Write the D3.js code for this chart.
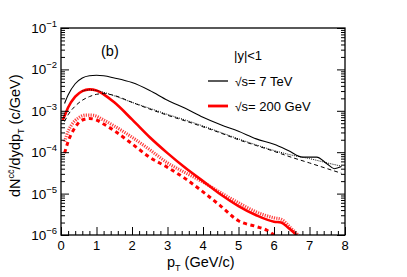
<!DOCTYPE html>
<html>
<head>
<meta charset="utf-8">
<script src="https://cdn.jsdelivr.net/npm/d3@7/dist/d3.min.js"></script>
<style>
  body { margin: 0; background: #fff; }
  svg text { font-family: "Liberation Sans", Arial, sans-serif; fill: #000; }
</style>
</head>
<body>
<svg id="chart"></svg>
<script>
// 7 TeV curves
let ptSolid7 = [0.1, 0.2, 0.4, 0.6, 0.8, 1.0, 1.2, 1.5, 2.0, 2.5, 3.0, 3.5, 4.0, 4.5, 5.0, 5.5, 6.0, 6.4, 6.8, 7.2, 7.5, 7.7, 7.9];
let valSolid7 = [1.5e-3, 2.4e-3, 4.5e-3, 6.2e-3, 7.0e-3, 7.2e-3, 7.0e-3, 6.2e-3, 4.8e-3, 3.1e-3, 1.8e-3, 1.15e-3, 7.0e-4, 4.6e-4, 3.2e-4, 2.1e-4, 1.55e-4, 1.1e-4, 7.6e-5, 7.6e-5, 5.2e-5, 4.0e-5, 4.5e-5];

let ptDot7 = [0.6, 0.8, 1.0, 1.2, 1.5, 2.0, 2.5, 3.0, 3.5, 4.0, 4.5, 5.0, 5.5, 6.0, 6.5, 7.0, 7.5, 7.9];
let valDot7 = [3.0e-3, 3.2e-3, 3.1e-3, 2.8e-3, 2.3e-3, 1.6e-3, 1.15e-3, 8.2e-4, 6.0e-4, 4.3e-4, 3.0e-4, 2.1e-4, 1.5e-4, 1.1e-4, 8.5e-5, 7.0e-5, 5.5e-5, 4.6e-5];

let ptDash7 = [0.1, 0.2, 0.4, 0.6, 0.8, 1.0, 1.2, 1.5, 2.0, 2.5, 3.0, 3.5, 4.0, 4.5, 5.0, 5.5, 6.0, 6.5, 7.0, 7.5, 7.9];
let valDash7 = [5.5e-4, 8.0e-4, 1.3e-3, 1.8e-3, 2.2e-3, 2.5e-3, 2.6e-3, 2.35e-3, 1.6e-3, 1.1e-3, 7.8e-4, 5.7e-4, 4.1e-4, 2.9e-4, 2.0e-4, 1.45e-4, 1.05e-4, 7.5e-5, 5.5e-5, 4.0e-5, 3.1e-5];

// 200 GeV curves
let ptSolid200 = [0.05, 0.1, 0.2, 0.4, 0.6, 0.8, 1.0, 1.2, 1.5, 2.0, 2.5, 3.0, 3.5, 4.0, 4.5, 5.0, 5.5, 6.0, 6.2, 6.4, 6.6, 6.7];
let valSolid200 = [6e-4, 7.5e-4, 1.2e-3, 2.2e-3, 3.0e-3, 3.3e-3, 3.1e-3, 2.5e-3, 1.6e-3, 6.2e-4, 2.3e-4, 9.5e-5, 4.2e-5, 2.0e-5, 9.5e-6, 5.0e-6, 3.0e-6, 2.1e-6, 2.0e-6, 1.5e-6, 1.05e-6, 8e-7];

let ptDot200 = [0.1, 0.2, 0.3, 0.5, 0.7, 0.9, 1.2, 1.5, 2.0, 2.5, 3.0, 3.5, 4.0, 4.5, 5.0, 5.5, 6.0, 6.2, 6.5, 6.8];
let valDot200 = [1.8e-4, 3.2e-4, 4.6e-4, 6.8e-4, 7.9e-4, 7.8e-4, 6.0e-4, 4.3e-4, 2.3e-4, 1.15e-4, 5.5e-5, 3.2e-5, 1.9e-5, 1.05e-5, 6.0e-6, 3.6e-6, 2.6e-6, 2.4e-6, 1.4e-6, 8e-7];

let ptDash200 = [0.1, 0.2, 0.4, 0.6, 0.8, 1.0, 1.2, 1.5, 2.0, 2.5, 3.0, 3.5, 4.0, 4.5, 5.0, 5.5, 5.8, 6.0];
let valDash200 = [9.5e-5, 1.8e-4, 4.0e-4, 6.0e-4, 6.5e-4, 6.0e-4, 4.8e-4, 3.3e-4, 1.6e-4, 7.5e-5, 4.3e-5, 2.3e-5, 1.1e-5, 5.0e-6, 2.2e-6, 1.6e-6, 1.3e-6, 1.0e-6];

let xTicks = [0, 1, 2, 3, 4, 5, 6, 7, 8];
let yExp = [-1, -2, -3, -4, -5, -6];

let w = 407;
let h = 277;
let padL = 61, padR = 345, padT = 28, padB = 235; // frame edges, not "top" since window.top exists

let svg = d3.select('#chart').attr('width', w).attr('height', h);

let xSc = d3.scaleLinear().domain([0, 8]).range([padL, padR]);
let ySc = d3.scaleLog().domain([1e-6, 1e-1]).range([padB, padT]);

// clip for curves
svg.append('clipPath').attr('id', 'clip')
   .append('rect').attr('x', padL).attr('y', padT).attr('width', padR - padL).attr('height', padB - padT);

let line = d3.line()
             .x(d => xSc(d[0]))
             .y(d => ySc(d[1]))
             .curve(d3.curveMonotoneX);

let curves = [
  { pt: ptDot200, v: valDot200, color: '#ff0000', width: 3.2, dash: '1.2,1.2', opacity: 0.75 },
  { pt: ptDash200, v: valDash200, color: '#ff0000', width: 3, dash: '4,3.5', opacity: 1 },
  { pt: ptSolid200, v: valSolid200, color: '#ff0000', width: 2.6, dash: null, opacity: 1 },
  { pt: ptDash7, v: valDash7, color: '#000', width: 1, dash: '4,3', opacity: 1 },
  { pt: ptDot7, v: valDot7, color: '#000', width: 1, dash: '1,1.2', opacity: 1 },
  { pt: ptSolid7, v: valSolid7, color: '#000', width: 1.1, dash: null, opacity: 1 }
];

let g = svg.append('g').attr('clip-path', 'url(#clip)');
curves.forEach(c => {
  g.append('path')
   .datum(c.pt.map((p, i) => [p, c.v[i]]))
   .attr('d', line)
   .attr('fill', 'none')
   .attr('stroke', c.color)
   .attr('stroke-width', c.width)
   .attr('stroke-dasharray', c.dash)
   .attr('opacity', c.opacity);
});

// axes, ROOT style ticks pointing inward
let minorY = [];
for (let e = -6; e < -1; e++) {
  for (let k = 2; k <= 9; k++) minorY.push(k * Math.pow(10, e));
}
let majorY = yExp.map(e => Math.pow(10, e));
let minorX = d3.range(0, 8.01, 0.2).filter(v => Math.abs(v - Math.round(v)) > 0.01);

svg.append('g').attr('transform', 'translate(' + padL + ',0)')
   .call(d3.axisLeft(ySc).tickValues(majorY).tickSize(-8).tickFormat(''));
svg.append('g').attr('transform', 'translate(' + padL + ',0)')
   .call(d3.axisLeft(ySc).tickValues(minorY).tickSize(-4).tickFormat(''));
svg.append('g').attr('transform', 'translate(' + padR + ',0)')
   .call(d3.axisRight(ySc).tickValues(majorY).tickSize(-8).tickFormat(''));
svg.append('g').attr('transform', 'translate(' + padR + ',0)')
   .call(d3.axisRight(ySc).tickValues(minorY).tickSize(-4).tickFormat(''));
svg.append('g').attr('transform', 'translate(0,' + padB + ')')
   .call(d3.axisBottom(xSc).tickValues(xTicks).tickSize(-8).tickFormat(''));
svg.append('g').attr('transform', 'translate(0,' + padB + ')')
   .call(d3.axisBottom(xSc).tickValues(minorX).tickSize(-4).tickFormat(''));
svg.selectAll('.domain').remove();
svg.selectAll('.tick line').attr('stroke', '#000').attr('stroke-width', 1);

svg.append('rect')
   .attr('x', padL).attr('y', padT)
   .attr('width', padR - padL).attr('height', padB - padT)
   .attr('fill', 'none').attr('stroke', '#000').attr('stroke-width', 1.3);

// tick labels
xTicks.forEach(t => {
  svg.append('text')
     .attr('x', xSc(t)).attr('y', padB + 15)
     .attr('text-anchor', 'middle')
     .attr('font-size', 13)
     .text(t);
});
yExp.forEach(e => {
  let t = svg.append('text')
             .attr('x', padL - 4).attr('y', ySc(Math.pow(10, e)) + 5)
             .attr('text-anchor', 'end')
             .attr('font-size', 13.5);
  t.append('tspan').text('10');
  t.append('tspan').attr('dy', -6).attr('font-size', 9.5).text('\u2212' + (-e));
});

// axis titles
let xt = svg.append('text')
            .attr('x', 167).attr('y', 267)
            .attr('font-size', 14.5);
xt.append('tspan').text('p');
xt.append('tspan').attr('dy', 4).attr('font-size', 9).text('T');
xt.append('tspan').attr('dy', -4).text(' (GeV/c)');

let yt = svg.append('text')
            .attr('transform', 'translate(20,197) rotate(-90)')
            .attr('font-size', 14.5);
yt.append('tspan').text('dN');
yt.append('tspan').attr('dy', -6).attr('font-size', 9).text('c\u0063\u0304');
yt.append('tspan').attr('dy', 6).text('/dydp');
yt.append('tspan').attr('dy', 4).attr('font-size', 9).text('T');
yt.append('tspan').attr('dy', -4).text(' (c/GeV)');

// labels and legend
svg.append('text').attr('x', 101).attr('y', 56).attr('font-size', 14.5).text('(b)');
svg.append('text').attr('x', 234).attr('y', 60).attr('font-size', 13).text('|y|<1');

let legend = [
  { label: '7 TeV', color: '#000', width: 1.3, y: 81 },
  { label: '200 GeV', color: '#ff0000', width: 2.8, y: 106 }
];
legend.forEach(l => {
  svg.append('line')
     .attr('x1', 208).attr('x2', 228)
     .attr('y1', l.y).attr('y2', l.y)
     .attr('stroke', l.color).attr('stroke-width', l.width);
  let t = svg.append('text').attr('x', 235).attr('y', l.y + 5).attr('font-size', 13);
  t.append('tspan').attr('font-size', 12).text('\u221A');
  t.append('tspan').text('s= ' + l.label);
});
</script>
</body>
</html>
